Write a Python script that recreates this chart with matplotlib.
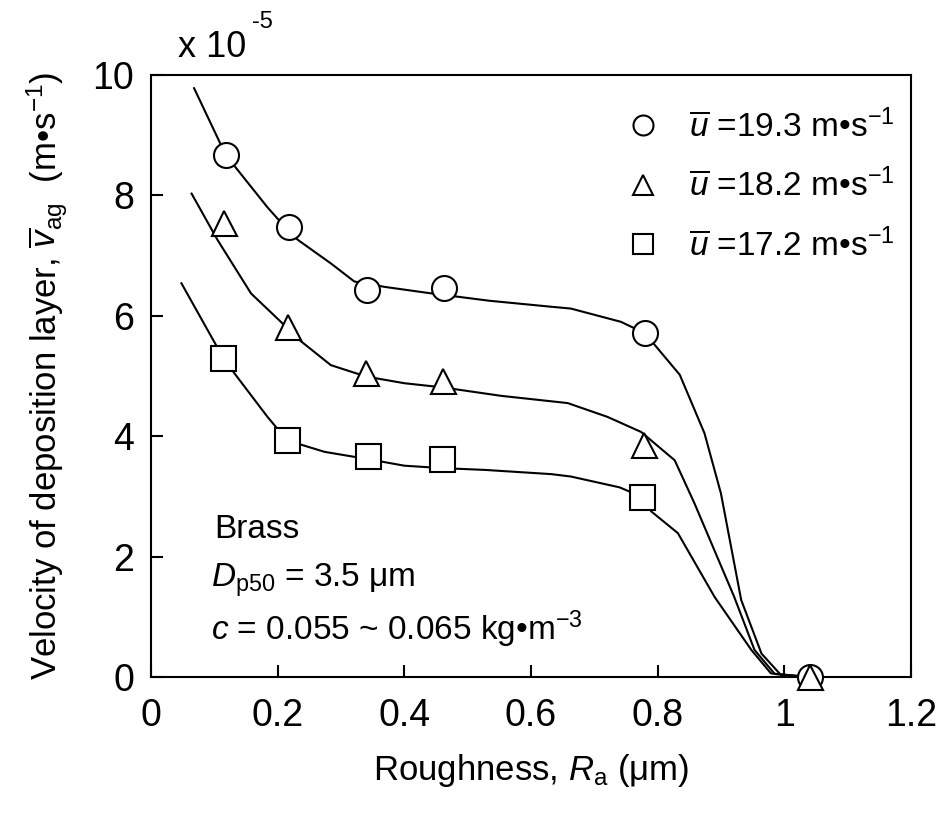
import matplotlib
matplotlib.use('Agg')
import matplotlib.pyplot as plt
import numpy as np

plt.rcParams['font.family'] = ['Liberation Sans', 'DejaVu Sans']
plt.rcParams['mathtext.fontset'] = 'custom'
plt.rcParams['mathtext.rm'] = 'Liberation Sans'
plt.rcParams['mathtext.it'] = 'Liberation Sans:italic'

# measured points (x 1e-5 m/s)
ra_circ = [0.118, 0.218, 0.341, 0.463, 0.780, 1.040]
v_circ = [8.67, 7.48, 6.42, 6.46, 5.71, 0.0]
ra_tri = [0.116, 0.217, 0.340, 0.461, 0.778, 1.040]
v_tri = [7.54, 5.81, 5.05, 4.92, 3.85, 0.0]
ra_sq = [0.114, 0.215, 0.342, 0.459, 0.776]
v_sq = [5.30, 3.93, 3.67, 3.62, 2.99]

# fitted curves
fit_x_circ = [0.068, 0.118, 0.184, 0.218, 0.232, 0.284, 0.321, 0.369, 0.437, 0.482, 0.534,
              0.632, 0.663, 0.742, 0.780, 0.835, 0.874, 0.900, 0.932, 0.964, 0.995, 1.040]
fit_y_circ = [9.78, 8.67, 7.80, 7.40, 7.26, 6.87, 6.57, 6.48, 6.38, 6.32, 6.25,
              6.15, 6.12, 5.90, 5.71, 5.02, 4.05, 3.05, 1.28, 0.39, 0.03, 0.0]
fit_x_tri = [0.064, 0.105, 0.158, 0.205, 0.234, 0.284, 0.340, 0.400, 0.461, 0.553, 0.658,
             0.721, 0.774, 0.827, 0.858, 0.921, 0.953, 0.985, 1.040]
fit_y_tri = [8.03, 7.26, 6.37, 5.90, 5.60, 5.18, 4.99, 4.88, 4.81, 4.67, 4.55,
             4.32, 4.07, 3.60, 2.89, 1.33, 0.45, 0.05, 0.0]
fit_x_sq = [0.048, 0.114, 0.132, 0.184, 0.215, 0.274, 0.342, 0.400, 0.459, 0.527, 0.632,
            0.663, 0.740, 0.776, 0.790, 0.832, 0.890, 0.948, 0.979, 1.040]
fit_y_sq = [6.54, 5.30, 5.04, 4.32, 3.93, 3.74, 3.62, 3.51, 3.47, 3.44, 3.37,
            3.33, 3.15, 2.99, 2.75, 2.39, 1.33, 0.45, 0.06, 0.0]

labels = [r'$\overline{u}$ =19.3 m•s$^{-1}$',
          r'$\overline{u}$ =18.2 m•s$^{-1}$',
          r'$\overline{u}$ =17.2 m•s$^{-1}$']

xticks = [0, 0.2, 0.4, 0.6, 0.8, 1.0, 1.2]
xticklabels = ['0', '0.2', '0.4', '0.6', '0.8', '1', '1.2']
yticks = [0, 2, 4, 6, 8, 10]

fig = plt.figure(figsize=(9.41, 8.14), dpi=100)
ax = fig.add_axes([0.1605, 0.1683, 0.968 - 0.1605, 0.9079 - 0.1683])

lw = 1.5
ax.plot(fit_x_circ, fit_y_circ, '-', color='k', lw=lw, clip_on=False, zorder=2)
ax.plot(fit_x_tri, fit_y_tri, '-', color='k', lw=lw, clip_on=False, zorder=2)
ax.plot(fit_x_sq, fit_y_sq, '-', color='k', lw=lw, clip_on=False, zorder=2)

ms = 18
ax.plot(ra_sq, v_sq, 's', ls='none', ms=ms, mfc='white', mec='k', mew=1.5,
        clip_on=False, zorder=3, label=labels[2])
ax.plot(ra_circ, v_circ, 'o', ls='none', ms=ms, mfc='white', mec='k', mew=1.5,
        clip_on=False, zorder=3, label=labels[0])
ax.plot(ra_tri, v_tri, '^', ls='none', ms=ms, mfc='white', mec='k', mew=1.5,
        clip_on=False, zorder=4, label=labels[1])

ax.set_xlim(0, 1.2)
ax.set_ylim(0, 10)
ax.set_xticks(xticks)
ax.set_xticklabels(xticklabels)
ax.set_yticks(yticks)
ax.tick_params(axis='both', direction='in', length=8.5, width=1.5, labelsize=27)
ax.tick_params(axis='x', pad=15)
ax.tick_params(axis='y', pad=12)
for s in ax.spines.values():
    s.set_linewidth(1.5)

ax.set_xlabel(r'Roughness, $R_{\rm a}$ (μm)', fontsize=25, labelpad=13)
ax.set_ylabel(r'Velocity of deposition layer, $\overline{v}_{\rm ag}$  (m•s$^{-1}$)',
              fontsize=25, labelpad=16)

h, l = ax.get_legend_handles_labels()
order = [1, 2, 0]
ax.legend([h[i] for i in order], [l[i] for i in order], loc='upper left',
          bbox_to_anchor=(0.625, 0.943), borderaxespad=0, borderpad=0,
          frameon=False, fontsize=24, markerscale=0.8, handletextpad=0.9,
          labelspacing=0.75, handlelength=1.0)

ax.text(0.100, 2.31, 'Brass', fontsize=24, va='baseline')
ax.text(0.095, 1.50, r'$D_{\rm p50}$ = 3.5 μm', fontsize=24, va='baseline')
ax.text(0.095, 0.61, r'$c$ = 0.055 ~ 0.065 kg•m$^{-3}$', fontsize=24, va='baseline')

fig.text(178 / 941, 1 - 57 / 814, 'x 10', fontsize=26, va='baseline')
fig.text(252 / 941, 1 - 28 / 814, '-5', fontsize=17, va='baseline')

fig.savefig('out.png', dpi=100)
